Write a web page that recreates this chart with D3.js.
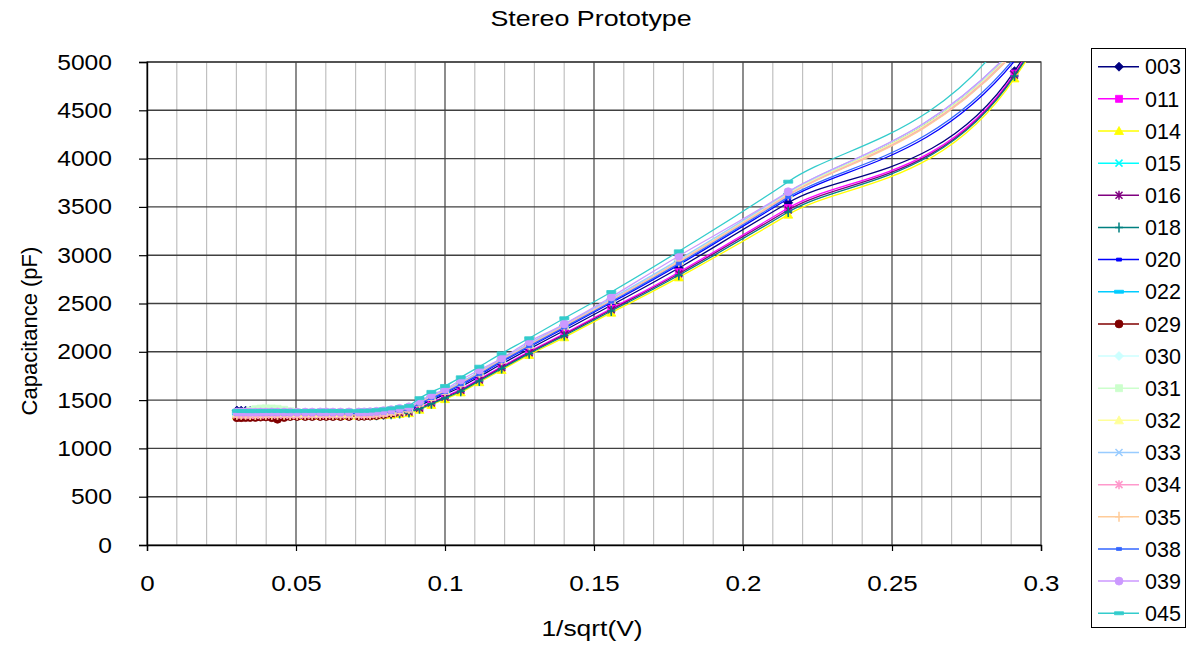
<!DOCTYPE html>
<html>
<head>
<meta charset="utf-8">
<script src="https://cdnjs.cloudflare.com/ajax/libs/d3/7.8.5/d3.min.js"></script>
<style>
  html, body { margin: 0; padding: 0; background: #fff; }
  svg text { font-family: "Liberation Sans", Arial, sans-serif; fill: #000; }
</style>
</head>
<body>
<svg id="chart" width="1197" height="646"></svg>
<script>
// ---------- data ----------
const chartTitle = "Stereo Prototype";
const xTitle = "1/sqrt(V)";
const yTitle = "Capacitance (pF)";
const xTicks = [0, 0.05, 0.1, 0.15, 0.2, 0.25, 0.3];
const xTickLabels = ["0", "0.05", "0.1", "0.15", "0.2", "0.25", "0.3"];
const yTicks = [0, 500, 1000, 1500, 2000, 2500, 3000, 3500, 4000, 4500, 5000];
const yTickLabels = ["0", "500", "1000", "1500", "2000", "2500", "3000", "3500", "4000", "4500", "5000"];

// 1/sqrt(V) of the measured points
const xValues = [0.03016, 0.03160, 0.03309, 0.03461, 0.03636, 0.03812, 0.03987, 0.04187, 0.04379, 0.04601,
  0.04805, 0.05038, 0.05309, 0.05544, 0.05812, 0.06015, 0.06240, 0.06493, 0.06779, 0.07107,
  0.07289, 0.07487, 0.07701, 0.07935, 0.08192, 0.08476,
  0.08791, 0.09144, 0.09543, 0.10000, 0.10529, 0.11152, 0.11901, 0.12825, 0.14003, 0.15580,
  0.17846, 0.21517, 0.29111, 0.70711];

const seriesNames = ["003", "011", "014", "015", "016", "018", "020", "022", "029", "030", "031", "032", "033", "034", "035", "038", "039", "045"];
const seriesColors = ["#000080", "#FF00FF", "#FFFF00", "#00FFFF", "#800080", "#008080", "#0000FF", "#00CCFF", "#800000",
  "#CCFFFF", "#CCFFCC", "#FFFF99", "#99CCFF", "#FF99CC", "#FFCC99", "#3366FF", "#CC99FF", "#33CCCC"];
const seriesMarkers = ["diamond", "square", "triangle", "x", "star", "plus", "dash", "longdash", "circle",
  "diamond", "square", "triangle", "x", "star", "plus", "dash", "circle", "longdash"];

const c003 = [1392,1391,1390,1388,1382,1374,1368,1364,1362,1361,1361,1360,1360,1360,1361,1361,1362,1362,1362,1363,1363,1364,1366,1369,1375,1383,
  1392,1443,1499,1559,1636,1743,1874,2029,2221,2482,2867,3543,4905,26000];
const c011 = [1346,1345,1345,1344,1344,1345,1345,1346,1345,1345,1344,1344,1345,1345,1346,1346,1345,1345,1346,1346,1347,1348,1350,1355,1361,1369,
  1380,1424,1477,1537,1611,1717,1846,2002,2189,2448,2824,3488,4880,26000];
const c014 = [1338,1338,1337,1337,1338,1338,1339,1338,1338,1337,1337,1338,1338,1339,1339,1338,1338,1338,1339,1339,1340,1340,1342,1345,1349,1356,
  1365,1400,1450,1510,1580,1685,1812,1967,2150,2405,2770,3420,4830,26000];
const c015 = [1366,1365,1365,1364,1364,1365,1365,1366,1365,1365,1364,1364,1365,1365,1366,1366,1365,1365,1366,1366,1367,1368,1371,1377,1386,1398,
  1412,1474,1534,1594,1677,1785,1919,2074,2272,2538,2937,3631,5110,20000];
const c016 = [1343,1342,1342,1341,1341,1342,1342,1343,1342,1342,1341,1341,1342,1342,1343,1343,1342,1342,1343,1343,1344,1345,1347,1352,1358,1366,
  1376,1417,1469,1529,1602,1708,1836,1991,2178,2435,2808,3468,4865,26000];
const c018 = [1340,1340,1339,1339,1340,1340,1341,1340,1340,1339,1339,1340,1340,1341,1341,1340,1340,1340,1341,1341,1342,1342,1344,1348,1353,1361,
  1371,1410,1461,1521,1592,1698,1826,1981,2166,2422,2792,3447,4855,26000];
const c020 = [1356,1355,1355,1354,1354,1355,1355,1356,1355,1355,1354,1354,1355,1355,1356,1356,1355,1355,1356,1356,1357,1358,1362,1368,1376,1388,
  1401,1458,1515,1575,1655,1762,1895,2050,2245,2508,2900,3584,5010,22000];
const c022 = [1363,1362,1362,1361,1361,1362,1362,1363,1362,1362,1361,1361,1362,1362,1363,1363,1362,1362,1363,1363,1364,1365,1369,1375,1384,1396,
  1410,1472,1531,1592,1674,1782,1915,2071,2268,2533,2932,3625,5100,20000];
const c029 = [1318,1318,1319,1320,1321,1324,1326,1318,1302,1320,1330,1331,1330,1330,1331,1331,1330,1330,1331,1332,1333,1335,1340,1350,1365,1385,
  1413,1477,1536,1597,1680,1788,1922,2078,2276,2542,2943,3638,5130,20000];
const c030 = [1369,1368,1368,1367,1367,1368,1368,1369,1368,1368,1367,1367,1368,1368,1369,1369,1368,1368,1369,1369,1370,1371,1374,1380,1389,1401,
  1415,1479,1539,1600,1683,1791,1926,2081,2280,2546,2948,3645,5140,20000];
const c031 = [1370,1372,1378,1392,1405,1412,1414,1413,1410,1400,1385,1375,1370,1370,1371,1371,1370,1370,1371,1371,1372,1373,1376,1382,1390,1401,
  1413,1477,1536,1597,1680,1788,1922,2078,2276,2542,2943,3638,5125,20000];
const c032 = [1356,1355,1355,1354,1354,1355,1355,1356,1355,1355,1354,1354,1355,1355,1356,1356,1355,1355,1356,1356,1357,1358,1362,1369,1380,1394,
  1412,1474,1534,1594,1677,1785,1919,2074,2272,2538,2937,3631,5115,20000];
const c033 = [1373,1372,1372,1371,1371,1372,1372,1373,1372,1372,1371,1371,1372,1372,1373,1373,1372,1372,1373,1373,1374,1375,1378,1384,1392,1403,
  1416,1482,1542,1602,1686,1794,1929,2085,2284,2551,2954,3652,5150,20000];
const c034 = [1346,1345,1345,1344,1344,1345,1345,1346,1345,1345,1344,1344,1345,1345,1346,1346,1345,1345,1346,1346,1347,1349,1354,1362,1375,1391,
  1410,1472,1531,1592,1674,1782,1915,2071,2268,2533,2932,3625,5105,20000];
const c035 = [1349,1348,1348,1347,1347,1348,1348,1349,1348,1348,1347,1347,1348,1348,1349,1349,1348,1348,1349,1349,1350,1352,1356,1364,1376,1391,
  1409,1470,1528,1589,1670,1778,1912,2067,2264,2529,2927,3618,5095,20000];
const c038 = [1359,1358,1358,1357,1357,1358,1358,1359,1358,1358,1357,1357,1358,1358,1359,1359,1358,1358,1359,1359,1360,1361,1365,1371,1380,1391,
  1405,1464,1522,1582,1663,1770,1903,2059,2254,2518,2913,3601,5040,22000];
const c039 = [1377,1376,1376,1375,1375,1376,1376,1377,1376,1376,1375,1375,1376,1376,1377,1377,1376,1376,1377,1377,1378,1380,1384,1391,1401,1414,
  1430,1490,1553,1612,1708,1812,1933,2105,2288,2567,2992,3657,5150,20000];
const c045 = [1388,1387,1387,1386,1386,1387,1387,1388,1387,1387,1386,1386,1387,1387,1388,1388,1387,1387,1388,1388,1389,1391,1396,1404,1414,1426,
  1440,1520,1585,1646,1736,1846,1984,2140,2347,2619,3040,3761,5380,26000];

const seriesValues = [c003, c011, c014, c015, c016, c018, c020, c022, c029, c030, c031, c032, c033, c034, c035, c038, c039, c045];

// ---------- Excel-like smoothed line curve ----------
function ExcelSmooth(context) { this._context = context; }
ExcelSmooth.prototype = {
  areaStart() {}, areaEnd() {},
  lineStart() { this._pts = []; },
  point(x, y) { this._pts.push([+x, +y]); },
  lineEnd() {
    const p = this._pts, n = p.length, ctx = this._context;
    if (!n) return;
    ctx.moveTo(p[0][0], p[0][1]);
    if (n === 1) return;
    const dist = (a, b) => Math.hypot(b[0] - a[0], b[1] - a[1]);
    for (let i = 0; i < n - 1; i++) {
      const p0 = p[i - 1] || p[i], p1 = p[i], p2 = p[i + 1], p3 = p[i + 2] || p[i + 1];
      const d = dist(p1, p2);
      const a = dist(p0, p2), b = dist(p1, p3);
      let f1 = 1 / 6, f2 = 1 / 6;
      if (a * f1 > d / 2) f1 = d / (2 * a);
      if (b * f2 > d / 2) f2 = d / (2 * b);
      const c1 = [p1[0] + f1 * (p2[0] - p0[0]), p1[1] + f1 * (p2[1] - p0[1])];
      const c2 = [p2[0] - f2 * (p3[0] - p1[0]), p2[1] - f2 * (p3[1] - p1[1])];
      ctx.bezierCurveTo(c1[0], c1[1], c2[0], c2[1], p2[0], p2[1]);
    }
  }
};
const excelCurve = ctx => new ExcelSmooth(ctx);

// ---------- marker shapes ----------
function markerPath(type) {
  switch (type) {
    case "diamond": return "M0,-4.5L4.5,0L0,4.5L-4.5,0Z";
    case "square": return "M-3.5,-3.5H3.5V3.5H-3.5Z";
    case "triangle": return "M0,-4.5L4.5,3.5L-4.5,3.5Z";
    case "x": return "M-3.5,-3.5L3.5,3.5M3.5,-3.5L-3.5,3.5";
    case "star": return "M-3.5,-3.5L3.5,3.5M3.5,-3.5L-3.5,3.5M0,-4.5V4.5";
    case "plus": return "M-4,0H4M0,-5V5";
    case "dash": return "M-2.5,-1.5H2.5V1.5H-2.5Z";
    case "longdash": return "M-4.5,-1.5H4.5V1.5H-4.5Z";
    case "circle": return "M4,0A4,4 0 1,1 -4,0A4,4 0 1,1 4,0Z";
  }
}
const strokeOnly = t => t === "x" || t === "star" || t === "plus";

// ---------- layout ----------
const svg = d3.select("#chart");
const L = 147, R = 1041, T = 62, B = 545;
const x = d3.scaleLinear().domain([0, 0.3]).range([L, R]);
const y = d3.scaleLinear().domain([0, 5000]).range([B, T]);

// minor vertical gridlines
const minorX = d3.range(1, 30).map(i => i / 100).filter(v => Math.abs(v * 20 - Math.round(v * 20)) > 1e-6);
svg.append("g").selectAll("line").data(minorX).join("line")
  .attr("x1", d => x(d)).attr("x2", d => x(d)).attr("y1", T).attr("y2", B)
  .attr("stroke", "#c0c0c0").attr("stroke-width", 1.2);
// major vertical gridlines
svg.append("g").selectAll("line").data(xTicks.slice(1, -1)).join("line")
  .attr("x1", d => x(d)).attr("x2", d => x(d)).attr("y1", T).attr("y2", B)
  .attr("stroke", "#404040").attr("stroke-width", 1.2);
// major horizontal gridlines
svg.append("g").selectAll("line").data(yTicks.slice(1)).join("line")
  .attr("x1", L).attr("x2", R).attr("y1", d => y(d)).attr("y2", d => y(d))
  .attr("stroke", "#404040").attr("stroke-width", 1.4);
// plot border
svg.append("rect").attr("x", L).attr("y", T).attr("width", R - L).attr("height", B - T)
  .attr("fill", "none").attr("stroke", "#404040").attr("stroke-width", 1.2);

// axes
const yAxis = svg.append("g").attr("transform", `translate(${L},0)`)
  .call(d3.axisLeft(y).tickValues(yTicks).tickSize(8).tickPadding(27)
    .tickFormat((d, i) => yTickLabels[i]));
const xAxis = svg.append("g").attr("transform", `translate(0,${B})`)
  .call(d3.axisBottom(x).tickValues(xTicks).tickSize(6).tickPadding(24)
    .tickFormat((d, i) => xTickLabels[i]));
[yAxis, xAxis].forEach(g => {
  g.selectAll("path.domain").attr("stroke", "#000").attr("stroke-width", 1.4);
  g.selectAll(".tick line").attr("stroke", "#000").attr("stroke-width", 1.2);
  g.selectAll("text").attr("font-size", 22).attr("font-family", "Liberation Sans, Arial, sans-serif").attr("fill", "#000");
});
// slightly wide lettering as in the reference
yAxis.selectAll(".tick text").attr("x", -35 / 1.12).attr("transform", "scale(1.12,1)");
xAxis.selectAll(".tick text").attr("transform", "scale(1.18,1)");

// clip
svg.append("clipPath").attr("id", "plotclip").append("rect")
  .attr("x", L).attr("y", T).attr("width", R - L).attr("height", B - T);
const plot = svg.append("g").attr("clip-path", "url(#plotclip)");

const line = d3.line().x(d => x(d[0])).y(d => y(d[1])).curve(excelCurve);

seriesNames.forEach((name, s) => {
  const pts = xValues.map((xv, i) => [xv, seriesValues[s][i]]);
  const g = plot.append("g");
  g.append("path").attr("d", line(pts)).attr("fill", "none")
    .attr("stroke", seriesColors[s]).attr("stroke-width", 1.3);
  const mt = seriesMarkers[s];
  g.selectAll("path.m").data(pts.filter(p => p[0] <= 0.3 && p[1] <= 5000)).join("path")
    .attr("class", "m")
    .attr("transform", p => `translate(${x(p[0])},${y(p[1])})`)
    .attr("d", markerPath(mt))
    .attr("fill", strokeOnly(mt) ? "none" : seriesColors[s])
    .attr("stroke", seriesColors[s]).attr("stroke-width", strokeOnly(mt) ? 1.5 : 0.8);
});

// titles
svg.append("text").attr("transform", "translate(591,26) scale(1.22,1)").attr("text-anchor", "middle")
  .attr("font-size", 22).text(chartTitle);
svg.append("text").attr("transform", "translate(592,636) scale(1.2,1)").attr("text-anchor", "middle")
  .attr("font-size", 22).text(xTitle);
svg.append("text").attr("transform", "translate(37,331) rotate(-90)").attr("text-anchor", "middle")
  .attr("font-size", 22).text(yTitle);

// legend
const lg = svg.append("g");
lg.append("rect").attr("x", 1091.5).attr("y", 48.5).attr("width", 94).attr("height", 579)
  .attr("fill", "#fff").attr("stroke", "#000").attr("stroke-width", 1);
seriesNames.forEach((name, s) => {
  const cy = 66.7 + s * 32.15;
  lg.append("line").attr("x1", 1098).attr("x2", 1139).attr("y1", cy).attr("y2", cy)
    .attr("stroke", seriesColors[s]).attr("stroke-width", 1.5);
  const mt = seriesMarkers[s];
  lg.append("path").attr("transform", `translate(1119,${cy})`).attr("d", markerPath(mt))
    .attr("fill", strokeOnly(mt) ? "none" : seriesColors[s])
    .attr("stroke", seriesColors[s]).attr("stroke-width", strokeOnly(mt) ? 1.5 : 0.8);
  lg.append("text").attr("x", 1145).attr("y", cy + 7.7).attr("font-size", 21.5).text(name);
});
</script>
</body>
</html>
